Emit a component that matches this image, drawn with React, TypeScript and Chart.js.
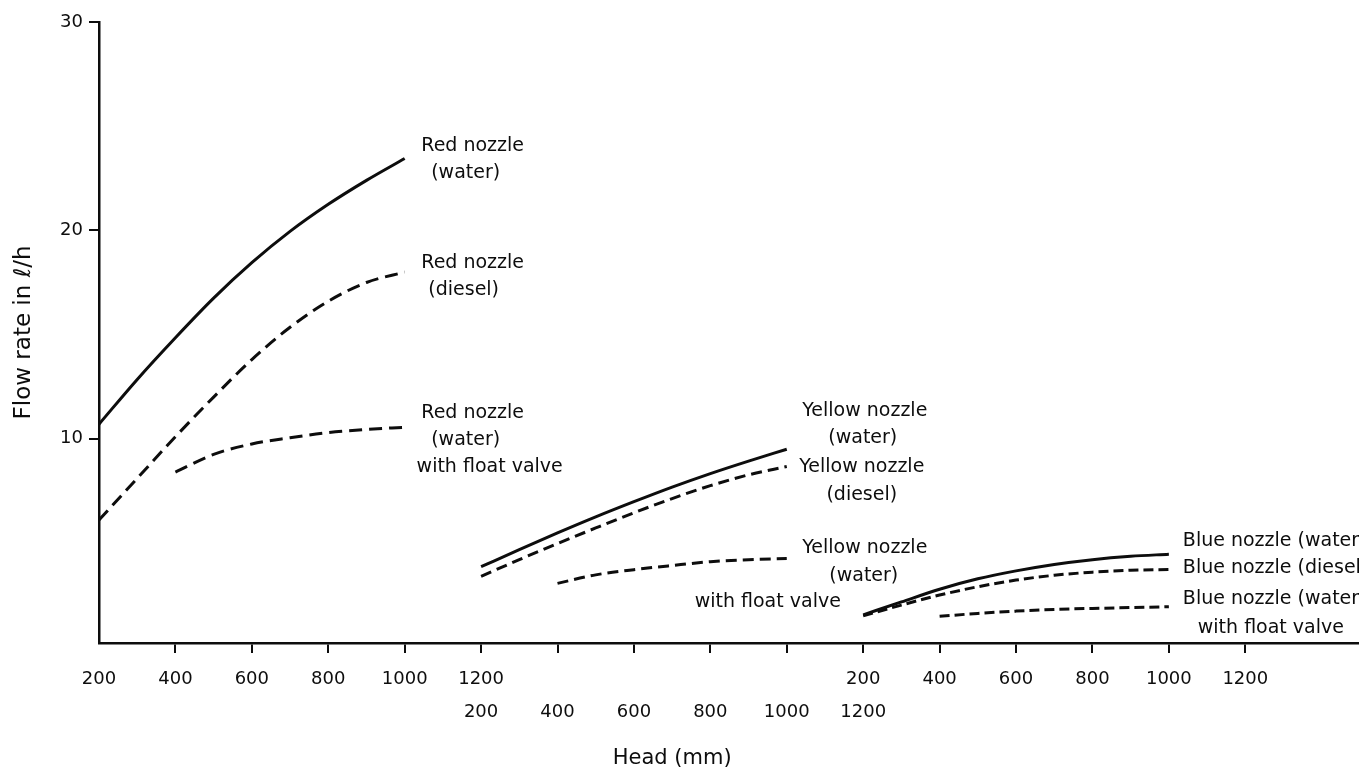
import React, { useEffect, useRef } from 'react';
import { Chart, registerables } from 'chart.js';

Chart.register(...registerables);

// ---- data (head in mm, flow rate in l/h) ----
const heads = [200, 300, 400, 500, 600, 700, 800, 900, 1000];
const floatHeads = [400, 500, 600, 700, 800, 900, 1000];

const redWater = [10.7, 12.85, 14.85, 16.75, 18.45, 19.95, 21.25, 22.4, 23.45];
const redDiesel = [6.1, 8.1, 10.1, 12.0, 13.8, 15.35, 16.6, 17.5, 18.0];
const redFloat = [8.4, 9.25, 9.75, 10.05, 10.3, 10.45, 10.55];

const yellowWater = [3.86, 4.68, 5.48, 6.25, 6.98, 7.68, 8.33, 8.93, 9.5];
const yellowDiesel = [3.4, 4.2, 4.97, 5.72, 6.45, 7.13, 7.75, 8.27, 8.67];
const yellowFloat = [3.06, 3.47, 3.72, 3.92, 4.1, 4.2, 4.25];

const blueWater = [1.55, 2.17, 2.78, 3.28, 3.66, 3.97, 4.2, 4.36, 4.46];
const blueDiesel = [1.5, 2.02, 2.5, 2.9, 3.22, 3.45, 3.6, 3.69, 3.73];
const blueFloat = [1.48, 1.62, 1.73, 1.81, 1.86, 1.9, 1.94];

// the three nozzle groups share one axis; each group is shifted by 1000 mm
const groupShift = { red: 0, yellow: 1000, blue: 2000 };

// tick labels (row 1 and row 2 under the axis), one per 200 mm step starting at 200
const tickRow1 = ['200', '400', '600', '800', '1000', '1200', '', '', '', '', '200', '400', '600', '800', '1000', '1200'];
const tickRow2 = ['', '', '', '', '', '200', '400', '600', '800', '1000', '1200', '', '', '', '', ''];
const yTickValues = [10, 20, 30];

const FONT = '"DejaVu Sans", sans-serif';
const INK = '#0d0d0d';

type Series = { key: string; heads: number[]; values: number[]; shift: number; dash: number[] };

const series: Series[] = [
  { key: 'redWater', heads, values: redWater, shift: groupShift.red, dash: [] },
  { key: 'redDiesel', heads, values: redDiesel, shift: groupShift.red, dash: [13, 7] },
  { key: 'redFloat', heads: floatHeads, values: redFloat, shift: groupShift.red, dash: [13, 7] },
  { key: 'yellowWater', heads, values: yellowWater, shift: groupShift.yellow, dash: [] },
  { key: 'yellowDiesel', heads, values: yellowDiesel, shift: groupShift.yellow, dash: [11, 6] },
  { key: 'yellowFloat', heads: floatHeads, values: yellowFloat, shift: groupShift.yellow, dash: [11, 6] },
  { key: 'blueWater', heads, values: blueWater, shift: groupShift.blue, dash: [] },
  { key: 'blueDiesel', heads, values: blueDiesel, shift: groupShift.blue, dash: [10, 5] },
  { key: 'blueFloat', heads: floatHeads, values: blueFloat, shift: groupShift.blue, dash: [10, 5] },
];

type Line = { t: string; dx: number; dy: number; align?: CanvasTextAlign };
const curveLabels: { key: string; lines: Line[] }[] = [
  { key: 'redWater', lines: [{ t: 'Red nozzle', dx: 68, dy: -12 }, { t: '(water)', dx: 61, dy: 15 }] },
  { key: 'redDiesel', lines: [{ t: 'Red nozzle', dx: 68, dy: -9 }, { t: '(diesel)', dx: 59, dy: 18 }] },
  {
    key: 'redFloat',
    lines: [
      { t: 'Red nozzle', dx: 68, dy: -14 },
      { t: '(water)', dx: 61, dy: 13 },
      { t: 'with float valve', dx: 85, dy: 40 },
    ],
  },
  { key: 'yellowWater', lines: [{ t: 'Yellow nozzle', dx: 78, dy: -38 }, { t: '(water)', dx: 76, dy: -11 }] },
  { key: 'yellowDiesel', lines: [{ t: 'Yellow nozzle', dx: 75, dy: 1 }, { t: '(diesel)', dx: 75, dy: 29 }] },
  {
    key: 'yellowFloat',
    lines: [
      { t: 'Yellow nozzle', dx: 78, dy: -11 },
      { t: '(water)', dx: 77, dy: 17 },
      { t: 'with float valve', dx: -19, dy: 43 },
    ],
  },
  { key: 'blueWater', lines: [{ t: 'Blue nozzle (water)', dx: 14, dy: -13, align: 'left' }] },
  { key: 'blueDiesel', lines: [{ t: 'Blue nozzle (diesel)', dx: 14, dy: -1, align: 'left' }] },
  {
    key: 'blueFloat',
    lines: [
      { t: 'Blue nozzle (water)', dx: 14, dy: -8, align: 'left' },
      { t: 'with float valve', dx: 102, dy: 21 },
    ],
  },
];

const labelPlugin = {
  id: 'curveLabels',
  afterDatasetsDraw(chart: any) {
    const xs = chart.scales.x;
    const ys = chart.scales.y;
    const ctx = chart.ctx as CanvasRenderingContext2D;
    ctx.save();
    ctx.fillStyle = INK;
    ctx.textBaseline = 'middle';
    ctx.font = `19px ${FONT}`;
    for (const lab of curveLabels) {
      const s = series.find((q) => q.key === lab.key)!;
      const n = s.heads.length - 1;
      const px = xs.getPixelForValue(s.heads[n] + s.shift);
      const py = ys.getPixelForValue(s.values[n]);
      for (const ln of lab.lines) {
        ctx.textAlign = ln.align || 'center';
        ctx.fillText(ln.t, px + ln.dx, py + ln.dy);
      }
    }
    // x-axis title, centred under the tick range
    const first = xs.getPixelForValue(200);
    const last = xs.getPixelForValue(200 + 200 * (tickRow1.length - 1));
    ctx.font = `21px ${FONT}`;
    ctx.textAlign = 'center';
    ctx.fillText('Head (mm)', (first + last) / 2, xs.bottom - 12);
    ctx.restore();
  },
};

export default function App() {
  const ref = useRef<HTMLCanvasElement | null>(null);

  useEffect(() => {
    if (!ref.current) return;
    const chart = new Chart(ref.current, {
      type: 'line',
      data: {
        datasets: series.map((s) => ({
          label: s.key,
          data: s.heads.map((h, i) => ({ x: h + s.shift, y: s.values[i] })),
          borderColor: INK,
          borderWidth: 3,
          borderDash: s.dash,
          pointRadius: 0,
          fill: false,
          cubicInterpolationMode: 'monotone' as const,
        })),
      },
      options: {
        animation: false,
        responsive: false,
        layout: { padding: { top: 22, right: 1, left: 0, bottom: 0 } },
        plugins: { legend: { display: false }, tooltip: { enabled: false } },
        scales: {
          x: {
            type: 'linear',
            min: 200,
            max: 3495,
            afterBuildTicks: (s: any) => {
              s.ticks = tickRow1.map((_, i) => ({ value: 200 + 200 * i }));
            },
            afterFit: (s: any) => {
              s.height = 128;
            },
            ticks: {
              autoSkip: false,
              maxRotation: 0,
              minRotation: 0,
              padding: 18,
              color: INK,
              font: { family: FONT, size: 18, lineHeight: 0.9167 },
              callback: (_v: any, i: number) => [tickRow1[i] ?? '', '', tickRow2[i] ?? ''],
            },
            grid: {
              display: true,
              drawOnChartArea: false,
              drawTicks: true,
              tickLength: 10,
              lineWidth: 2,
              color: (c: any) => (c.tick && c.tick.value === 200 ? 'rgba(0,0,0,0)' : INK),
            },
            border: { display: true, color: INK, width: 2.5 },
            title: { display: false },
          },
          y: {
            type: 'linear',
            min: 0.2,
            max: 30,
            afterBuildTicks: (s: any) => {
              s.ticks = yTickValues.map((v) => ({ value: v }));
            },
            afterFit: (s: any) => {
              s.width = 99;
            },
            ticks: {
              padding: 6,
              color: INK,
              font: { family: FONT, size: 18 },
            },
            grid: {
              display: true,
              drawOnChartArea: false,
              drawTicks: true,
              tickLength: 10,
              lineWidth: 2,
              color: INK,
            },
            border: { display: true, color: INK, width: 2.5 },
            title: {
              display: true,
              text: 'Flow rate in ℓ/h',
              color: INK,
              font: { family: FONT, size: 23, lineHeight: 1.2 },
              padding: { top: 10, bottom: 0 },
            },
          },
        },
      },
      plugins: [labelPlugin],
    });
    return () => chart.destroy();
  }, []);

  return (
    <div style={{ position: 'absolute', left: 0, top: 0, width: 1359, height: 771, background: '#fff' }}>
      <canvas ref={ref} width={1359} height={771} style={{ display: 'block' }} />
    </div>
  );
}
